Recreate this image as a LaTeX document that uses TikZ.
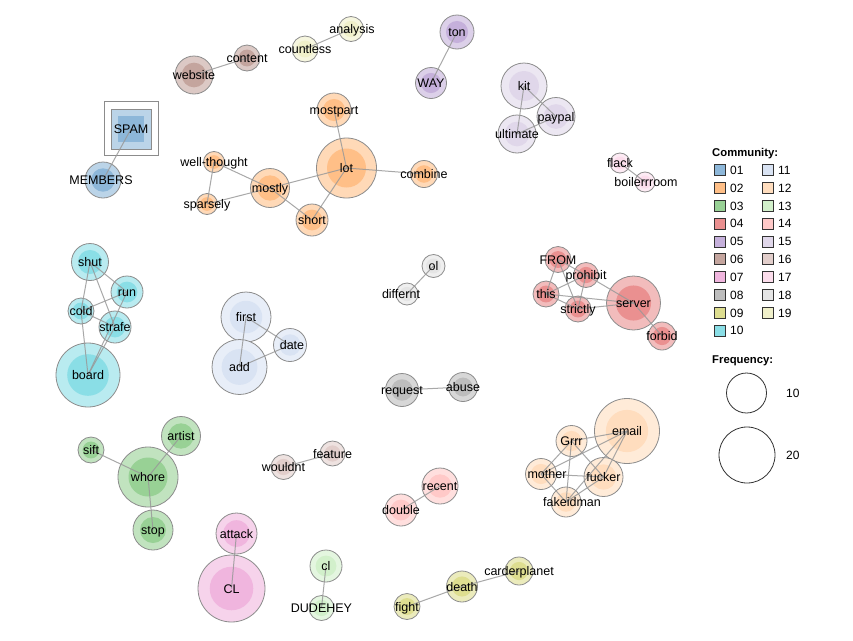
\documentclass[tikz,border=0pt]{standalone}
\usepackage{fontspec}
\setmainfont{Liberation Sans}
\pgfdeclarelayer{paper}
\pgfdeclarelayer{bg}
\pgfdeclarelayer{fg}
\pgfsetlayers{paper,bg,main,fg}
\definecolor{c01}{HTML}{8DB7D9}
\definecolor{c02}{HTML}{FFBF87}
\definecolor{c03}{HTML}{98D195}
\definecolor{c04}{HTML}{EA9090}
\definecolor{c05}{HTML}{C5B0DB}
\definecolor{c06}{HTML}{C4A59E}
\definecolor{c07}{HTML}{F0B5DE}
\definecolor{c08}{HTML}{BDBDBD}
\definecolor{c09}{HTML}{DEDE90}
\definecolor{c10}{HTML}{8ADEE6}
\definecolor{c11}{HTML}{D9E3F3}
\definecolor{c12}{HTML}{FFDDBE}
\definecolor{c13}{HTML}{D2F0CB}
\definecolor{c14}{HTML}{FFC9C8}
\definecolor{c15}{HTML}{E0D7EA}
\definecolor{c16}{HTML}{E2CECB}
\definecolor{c17}{HTML}{FCDDEC}
\definecolor{c18}{HTML}{E5E5E5}
\definecolor{c19}{HTML}{F0F0CA}
\definecolor{bordergray}{HTML}{8C8C8C}
\definecolor{edgegray}{HTML}{999999}
\definecolor{legendgray}{HTML}{333333}
\tikzset{
  gcirc/.style={circle, draw=bordergray, line width=0.8pt, inner sep=0pt},
  glabel/.style={inner sep=0pt, anchor=base, font=\fontsize{12.5}{14}\selectfont, text=black},
  gedge/.style={draw=edgegray, line width=1pt, opacity=0.85},
  legsq/.style={draw=legendgray, line width=0.8pt, minimum size=11pt, inner sep=0pt},
  legtxt/.style={inner sep=0pt, anchor=base west, font=\fontsize{12}{14}\selectfont},
  leghead/.style={inner sep=0pt, anchor=base west, font=\bfseries\fontsize{11.3}{13}\selectfont},
  legcirc/.style={circle, draw=legendgray, line width=0.8pt, inner sep=0pt}
}
% name, x, y, r, colour, label, label x-shift
\newcommand{\gnode}[7]{%
  \begin{pgfonlayer}{bg}
    \node[gcirc, minimum size={2*#4pt}, fill=#5!60!white] (#1) at (#2,#3) {};
    \fill[#5] (#1.center) circle[radius={0.65*#4pt}];
  \end{pgfonlayer}
  \begin{pgfonlayer}{fg}
    \node[glabel] (#1-t) at ([xshift=#7pt, yshift=-4.5pt]#1.center) {#6};
  \end{pgfonlayer}}
\newcommand{\gedge}[2]{\draw[gedge] (#1.center) -- (#2.center);}
\begin{document}
\begin{tikzpicture}[x=1pt, y=-1pt]
\begin{pgfonlayer}{paper}
\useasboundingbox[fill=white] (0,0) rectangle (853,640);
\end{pgfonlayer}

% SPAM (square)
\begin{pgfonlayer}{bg}
\node[draw=bordergray, line width=0.8pt, fill=white, minimum size=54pt, inner sep=0pt] (spamframe) at (131,128.5) {};
\node[draw=bordergray, line width=0.8pt, fill=c01!60!white, minimum size=40pt, inner sep=0pt] (SPAM) at (131,129) {};
\node[fill=c01, minimum size=26pt, inner sep=0pt] (spamin) at (SPAM.center) {};
\end{pgfonlayer}
\begin{pgfonlayer}{fg}
\node[glabel] (SPAM-t) at ([yshift=-4.5pt]SPAM.center) {SPAM};
\end{pgfonlayer}
\gnode{MEMBERS}{103}{180}{18}{c01}{MEMBERS}{-2}

% community 02
\gnode{mostpart}{334}{110}{17}{c02}{mostpart}{0}
\gnode{lot}{346.5}{168}{30}{c02}{lot}{0}
\gnode{combine}{424}{174}{13.5}{c02}{combine}{0}
\gnode{mostly}{270}{188}{19.5}{c02}{mostly}{0}
\gnode{wellthought}{214}{162}{10.5}{c02}{well-thought}{0}
\gnode{sparsely}{207}{204}{10.5}{c02}{sparsely}{0}
\gnode{short}{312}{220}{16}{c02}{short}{0}

% 06 / 19
\gnode{website}{194}{75}{19}{c06}{website}{0}
\gnode{content}{247}{58}{13}{c06}{content}{0}
\gnode{countless}{305}{49}{13}{c19}{countless}{0}
\gnode{analysis}{351}{29}{12.5}{c19}{analysis}{1}

% 05
\gnode{ton}{457}{32}{17}{c05}{ton}{0}
\gnode{WAY}{431}{83}{15.5}{c05}{WAY}{0}

% 15
\gnode{kit}{524}{86}{23}{c15}{kit}{0}
\gnode{paypal}{556}{116.5}{19}{c15}{paypal}{0}
\gnode{ultimate}{517}{134}{19}{c15}{ultimate}{0}

% 17
\gnode{flack}{620}{163}{10}{c17}{flack}{0}
\gnode{boilerrroom}{645}{182}{10}{c17}{boilerrroom}{1}

% 10
\gnode{shut}{90}{262}{18.5}{c10}{shut}{0}
\gnode{run}{127}{292}{16}{c10}{run}{0}
\gnode{cold}{81}{311}{13}{c10}{cold}{0}
\gnode{strafe}{115}{327}{16}{c10}{strafe}{0}
\gnode{board}{88}{375}{32}{c10}{board}{0}

% 11
\gnode{first}{246}{317}{25}{c11}{first}{0}
\gnode{add}{239.5}{367}{27.5}{c11}{add}{0}
\gnode{date}{290}{345}{16.5}{c11}{date}{2}

% 18 / 08
\gnode{ol}{433.5}{266}{11.5}{c18}{ol}{0}
\gnode{differnt}{407}{294}{11}{c18}{differnt}{-6}
\gnode{request}{402}{390}{16.5}{c08}{request}{0}
\gnode{abuse}{463}{387}{14.5}{c08}{abuse}{0}

% 04
\gnode{FROM}{558}{259.5}{13}{c04}{FROM}{0}
\gnode{prohibit}{586}{275}{12.5}{c04}{prohibit}{0}
\gnode{this}{546}{294}{13}{c04}{this}{0}
\gnode{strictly}{578}{309}{13}{c04}{strictly}{0}
\gnode{server}{633.5}{303}{27}{c04}{server}{0}
\gnode{forbid}{662}{336}{14}{c04}{forbid}{0}

% 12
\gnode{email}{627}{431}{32.5}{c12}{email}{0}
\gnode{Grrr}{571.5}{441}{15.5}{c12}{Grrr}{0}
\gnode{mother}{541}{474}{15.5}{c12}{mother}{6}
\gnode{fucker}{603.5}{477}{19.5}{c12}{fucker}{0}
\gnode{fakeidman}{566}{502}{15}{c12}{fakeidman}{6}

% 03
\gnode{sift}{91}{450}{13}{c03}{sift}{0}
\gnode{artist}{181}{436}{19.5}{c03}{artist}{0}
\gnode{whore}{148}{477}{30}{c03}{whore}{0}
\gnode{stop}{153}{530}{20}{c03}{stop}{0}

% 16 / 07 / 13 / 14 / 09
\gnode{wouldnt}{283.5}{467}{12.5}{c16}{wouldnt}{0}
\gnode{feature}{332.5}{453.5}{12.5}{c16}{feature}{0}
\gnode{attack}{236.5}{533.5}{20.5}{c07}{attack}{0}
\gnode{nCL}{231.5}{588.5}{33.5}{c07}{CL}{0}
\gnode{ncl}{326}{566}{16}{c13}{cl}{0}
\gnode{DUDEHEY}{321.5}{608}{12.5}{c13}{DUDEHEY}{0}
\gnode{recent}{440}{486}{18}{c14}{recent}{0}
\gnode{double}{401}{510}{16}{c14}{double}{0}
\gnode{death}{462}{586.5}{15.5}{c09}{death}{0}
\gnode{fight}{407}{606.5}{13}{c09}{fight}{0}
\gnode{carderplanet}{519}{571}{14}{c09}{carderplanet}{0}

% edges
\gedge{SPAM}{MEMBERS}
\gedge{wellthought}{sparsely}
\gedge{wellthought}{mostly}
\gedge{sparsely}{mostly}
\gedge{mostly}{lot}
\gedge{mostly}{short}
\gedge{short}{lot}
\gedge{lot}{combine}
\gedge{lot}{mostpart}
\gedge{website}{content}
\gedge{countless}{analysis}
\gedge{ton}{WAY}
\gedge{kit}{ultimate}
\gedge{kit}{paypal}
\gedge{ultimate}{paypal}
\gedge{flack}{boilerrroom}
\gedge{shut}{cold}
\gedge{shut}{strafe}
\gedge{shut}{run}
\gedge{cold}{run}
\gedge{cold}{strafe}
\gedge{cold}{board}
\gedge{strafe}{board}
\gedge{run}{board}
\gedge{first}{add}
\gedge{first}{date}
\gedge{add}{date}
\gedge{ol}{differnt}
\gedge{request}{abuse}
\gedge{FROM}{this}
\gedge{FROM}{prohibit}
\gedge{FROM}{strictly}
\gedge{prohibit}{this}
\gedge{prohibit}{strictly}
\gedge{this}{strictly}
\gedge{this}{server}
\gedge{strictly}{server}
\gedge{prohibit}{server}
\gedge{server}{forbid}
\gedge{Grrr}{email}
\gedge{Grrr}{mother}
\gedge{Grrr}{fucker}
\gedge{Grrr}{fakeidman}
\gedge{mother}{email}
\gedge{mother}{fucker}
\gedge{mother}{fakeidman}
\gedge{fucker}{email}
\gedge{fakeidman}{email}
\gedge{fakeidman}{fucker}
\gedge{sift}{whore}
\gedge{artist}{whore}
\gedge{whore}{stop}
\gedge{wouldnt}{feature}
\gedge{attack}{nCL}
\gedge{ncl}{DUDEHEY}
\gedge{double}{recent}
\gedge{fight}{death}
\gedge{death}{carderplanet}

% legend
\node[leghead] (lhead) at (712,156) {Community:};
\foreach \i/\c in {0/01,1/02,2/03,3/04,4/05,5/06,6/07,7/08,8/09,9/10}{
  \node[legsq, fill=c\c] (lsq\c) at (719.5,{170+17.85*\i}) {};
  \node[legtxt] (ltx\c) at ([xshift=10.5pt, yshift=-4.3pt]lsq\c.center) {\c};
}
\foreach \i/\c in {0/11,1/12,2/13,3/14,4/15,5/16,6/17,7/18,8/19}{
  \node[legsq, fill=c\c] (lsq\c) at (767.5,{170+17.85*\i}) {};
  \node[legtxt] (ltx\c) at ([xshift=10.5pt, yshift=-4.3pt]lsq\c.center) {\c};
}
\node[leghead] (fhead) at (712,363) {Frequency:};
\node[legcirc, minimum size=40pt] (f10) at (746.5,393) {};
\node[legtxt] (f10t) at (786,397.3) {10};
\node[legcirc, minimum size=56pt] (f20) at (747,455) {};
\node[legtxt] (f20t) at (786,459.3) {20};
\end{tikzpicture}
\end{document}
